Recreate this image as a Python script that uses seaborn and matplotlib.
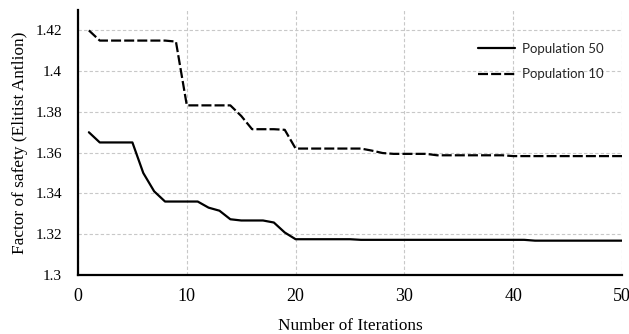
import matplotlib
matplotlib.use("Agg")
import matplotlib.pyplot as plt
from matplotlib.ticker import FuncFormatter
import seaborn as sns
import pandas as pd

iterations = list(range(1, 51))
pop50 = ([1.370, 1.365, 1.365, 1.365, 1.365, 1.350, 1.341, 1.336, 1.336, 1.336,
          1.336, 1.333, 1.3315, 1.3273, 1.3267, 1.3267, 1.3267, 1.3257, 1.3208, 1.3175]
         + [1.3175] * 5 + [1.3172] * 16 + [1.3168] * 9)
pop10 = ([1.420, 1.415, 1.415, 1.415, 1.415, 1.415, 1.415, 1.415, 1.4145, 1.3832,
          1.3832, 1.3832, 1.3832, 1.3832, 1.378, 1.3715, 1.3715, 1.3715, 1.3712, 1.362]
         + [1.362] * 6 + [1.361, 1.3598] + [1.3594] * 4 + [1.3587] * 7 + [1.3583] * 11)
series_names = ["Population 50", "Population 10"]
x_ticks = [0, 10, 20, 30, 40, 50]
y_ticks = [1.3, 1.32, 1.34, 1.36, 1.38, 1.4, 1.42]

df = pd.DataFrame({
    "Iteration": iterations * 2,
    "FoS": pop50 + pop10,
    "Series": [series_names[0]] * len(pop50) + [series_names[1]] * len(pop10),
})

sns.set_style("white")
plt.rcParams["font.family"] = ["Liberation Serif", "DejaVu Serif"]

fig = plt.figure(figsize=(6.29, 3.34), dpi=100)
ax = fig.add_axes([0.124, 0.177, 0.865, 0.793])

sns.lineplot(data=df, x="Iteration", y="FoS", style="Series", color="black",
             dashes={series_names[0]: "", series_names[1]: (4.5, 1.4)},
             linewidth=1.6, ax=ax, zorder=3)

ax.set_xlim(0, 50)
ax.set_ylim(1.3, 1.43)
ax.set_xticks(x_ticks)
ax.set_yticks(y_ticks)
ax.yaxis.set_major_formatter(FuncFormatter(lambda v, p: "%g" % round(v, 2)))
ax.grid(True, linestyle=(0, (3, 2)), color="#c8c8c8", linewidth=0.8, zorder=0)
ax.set_axisbelow(True)

for s in ["top", "right"]:
    ax.spines[s].set_visible(False)
for s in ["left", "bottom"]:
    ax.spines[s].set_color("black")
    ax.spines[s].set_linewidth(1.6)
ax.tick_params(axis="both", which="major", direction="out", length=4.5, width=1,
               color="black", labelcolor="black")
ax.tick_params(axis="y", labelsize=11, pad=7)
ax.tick_params(axis="x", labelsize=13, pad=5)

ax.set_xlabel("Number of Iterations", fontsize=12.4, labelpad=9, color="black")
ax.set_ylabel("Factor of safety (Elitist Antlion)", fontsize=12.4, labelpad=5, color="black")

leg = ax.legend(loc="upper left", bbox_to_anchor=(0.714, 0.922), frameon=False,
                prop={"family": ["Lato", "DejaVu Sans"], "size": 9.5},
                handlelength=2.8, handletextpad=0.5, labelspacing=1.05)

fig.savefig("out.png", dpi=100)
